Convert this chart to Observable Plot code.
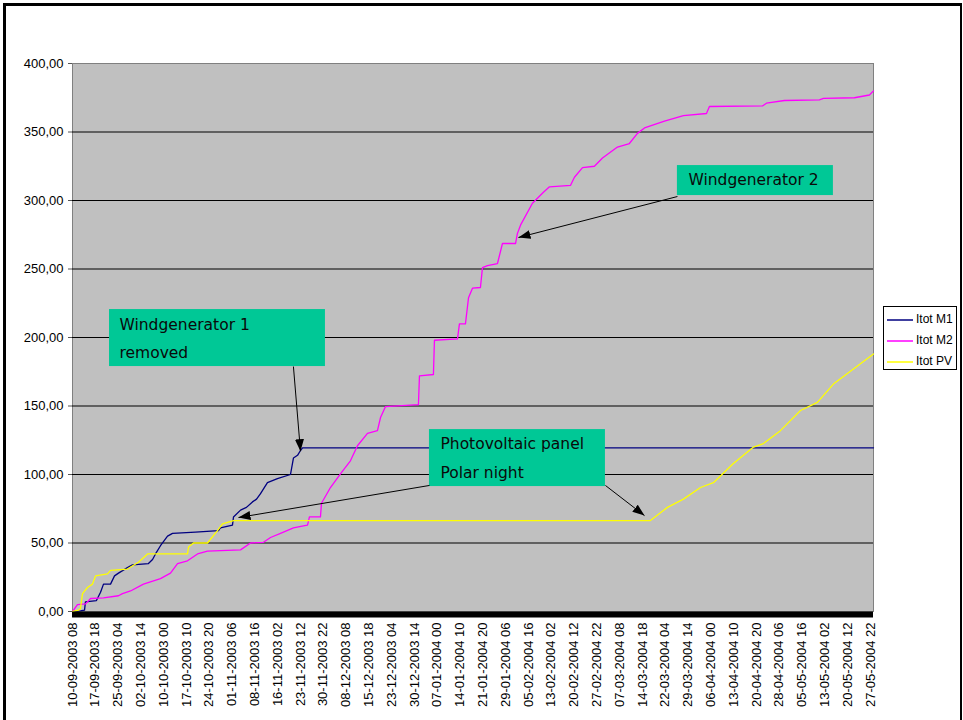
<!DOCTYPE html>
<html>
<head>
<meta charset="utf-8">
<script src="https://cdn.jsdelivr.net/npm/d3@7"></script>
<script src="https://cdn.jsdelivr.net/npm/@observablehq/plot@0.6"></script>
<style>
  body { margin: 0; background: #fff; }
  #wrap { position: relative; width: 963px; height: 720px; overflow: hidden; font-family: "Liberation Sans", Arial, sans-serif; }
  #border { position: absolute; left: 3px; top: 3px; width: 954px; height: 760px; border-left: 3px solid #000; border-top: 3px solid #000; border-right: 2px solid #000; }
  #chart { position: absolute; left: 0; top: 0; }
  #legend { position: absolute; left: 883px; top: 306px; width: 72px; height: 62px; border: 1px solid #000; background: #fff; font-size: 12px; }
  .row { position: absolute; left: 3px; height: 14px; line-height: 14px; white-space: nowrap; }
  .row svg { vertical-align: middle; margin-right: 3px; }
</style>
</head>
<body>
<div id="wrap">
  <div id="border"></div>
  <div id="chart"></div>
  <div id="legend"></div>
</div>
<script>
// ---- data (x: hours since 10-09-2003 08, category axis; y: Itot) ----
const labelStep = 178;
const tickLabels = ["10-09-2003 08","17-09-2003 18","25-09-2003 04","02-10-2003 14","10-10-2003 00","17-10-2003 10","24-10-2003 20","01-11-2003 06","08-11-2003 16","16-11-2003 02","23-11-2003 12","30-11-2003 22","08-12-2003 08","15-12-2003 18","23-12-2003 04","30-12-2003 14","07-01-2004 00","14-01-2004 10","21-01-2004 20","29-01-2004 06","05-02-2004 16","13-02-2004 02","20-02-2004 12","27-02-2004 22","07-03-2004 08","14-03-2004 18","22-03-2004 04","29-03-2004 14","06-04-2004 00","13-04-2004 10","20-04-2004 20","28-04-2004 06","05-05-2004 16","13-05-2004 02","20-05-2004 12","27-05-2004 22"];
const lastHour = 6254;
const yTicks = [0, 50, 100, 150, 200, 250, 300, 350, 400];

const m1Hours = [0,62,94,101,187,219,242,297,328,359,429,468,593,625,648,687,742,781,960,1140,1155,1249,1257,1312,1358,1405,1437,1468,1522,1600,1702,1725,1757,1780,1796,6254];
const m1Values = [0,0.5,1,7,8,14,20,20,26,28,32,34,35,38,42,48,55,57,58,59,61,63,69,74,76,80,82,86,94,97,100,112,114,117.5,119.5,119.5];

const m2Hours = [0,39,101,117,141,242,359,390,453,554,687,765,820,898,976,1054,1312,1390,1491,1546,1624,1725,1803,1835,1850,1936,1944,2014,2092,2170,2225,2303,2381,2405,2444,2701,2709,2818,2826,3006,3021,3068,3092,3123,3185,3201,3240,3318,3357,3459,3474,3498,3591,3677,3724,3888,3919,3982,4075,4138,4255,4348,4411,4466,4622,4770,4950,4973,5387,5418,5559,5832,5863,6105,6222,6254];
const m2Values = [0,5,5.5,7,9.5,10,11.5,13,15,20,24,28,35,37,42,44,45,50,50.5,54,57,61,62.5,63,69,69,79,90.5,100.5,110,121,130,132,141.6,149.6,151,172,173,198,199,210,210,229,236,236.5,251,252.5,254,268.6,268.6,276,282,298,306,310,311,317,324,325,331,339,341.6,349,353,358,362,363.5,368.6,369,371,373,373.5,374.5,375,377,380];

const pvHours = [0,47,62,78,117,156,180,273,297,429,515,586,898,906,945,1054,1132,1171,1257,4512,4645,4770,4903,5004,5160,5317,5395,5527,5684,5816,5941,6097,6254];
const pvValues = [0,1,2,13,17.5,20,26,27.5,30,31,36,42,42,47,50,50,59,64,66.4,66.4,76,82,90.5,94,108,120,122.6,132,146.7,152.6,166,177,188];

const seriesNames = ["Itot M1", "Itot M2", "Itot PV"];
const seriesColors = ["#000080", "#FF00FF", "#FFFF00"];

// annotations (data coordinates)
const boxNames = ["wg1", "pv", "wg2"];
const boxX1 = [289, 2787, 4723];
const boxX2 = [1975, 4161, 5941];
const boxY1 = [178.8, 91.2, 303.6];
const boxY2 = [220.4, 132.8, 325.5];

const noteTexts = ["Windgenerator 1", "removed", "Photovoltaic panel", "Polar night", "Windgenerator 2"];
const noteX = [367, 367, 2873, 2873, 4809];
const noteY = [208.8, 189, 121.9, 101.2, 314.6];

const arrowX1 = [1725, 2787, 4161, 4723];
const arrowY1 = [178.8, 92, 92, 302.9];
const arrowX2 = [1780, 1296, 4466, 3482];
const arrowY2 = [117, 68.6, 70, 273];

// ---- build tables ----
const toRows = (hours, values, name) => hours.map((h, i) => ({hour: h, value: values[i], series: name}));
const rows = [
  ...toRows(m1Hours, m1Values, seriesNames[0]),
  ...toRows(m2Hours, m2Values, seriesNames[1]),
  ...toRows(pvHours, pvValues, seriesNames[2])
];
const tickPositions = tickLabels.map((_, i) => i * labelStep);
const boxes = boxNames.map((n, i) => ({x1: boxX1[i], x2: boxX2[i], y1: boxY1[i], y2: boxY2[i]}));
const notes = noteTexts.map((t, i) => ({text: t, x: noteX[i], y: noteY[i]}));
const arrows = arrowX1.map((_, i) => ({x1: arrowX1[i], y1: arrowY1[i], x2: arrowX2[i], y2: arrowY2[i]}));
const fmt = d => d.toFixed(2).replace(".", ",");

const chart = Plot.plot({
  width: 963,
  height: 720,
  marginLeft: 72,
  marginRight: 90,
  marginTop: 63,
  marginBottom: 109,
  style: {fontFamily: "Liberation Sans, Arial, sans-serif", fontSize: "13px", background: "transparent", overflow: "visible"},
  x: {domain: [0, lastHour], label: null},
  y: {domain: [0, 400], label: null},
  color: {domain: seriesNames, range: seriesColors},
  marks: [
    Plot.frame({fill: "#C0C0C0", stroke: "#808080"}),
    Plot.ruleY(yTicks.filter(d => d > 0 && d < 400), {stroke: "#000", strokeWidth: 1}),
    Plot.line(rows, {x: "hour", y: "value", z: "series", stroke: "series", strokeWidth: 1.3}),
    Plot.ruleY([0], {stroke: "#000", strokeWidth: 6, dy: 3}),
    Plot.axisY(yTicks, {tickFormat: fmt, tickSize: 4, tickPadding: 5, fontSize: 13, stroke: "#555"}),
    Plot.axisX(tickPositions, {tickFormat: d => tickLabels[Math.round(d / labelStep)], tickRotate: -90, tickSize: 0, tickPadding: 11, fontSize: 13}),
    Plot.rect(boxes, {x1: "x1", x2: "x2", y1: "y1", y2: "y2", fill: "#00C896"}),
    Plot.link(arrows, {x1: "x1", y1: "y1", x2: "x2", y2: "y2", stroke: "#000", strokeWidth: 1, markerEnd: "arrow"}),
    Plot.text(notes, {x: "x", y: "y", text: "text", textAnchor: "start", fontSize: 15.5, fontFamily: "DejaVu Sans, Verdana, sans-serif", fill: "#0a0a0a"})
  ]
});

// filled arrowheads
d3.select(chart).selectAll("marker")
  .attr("viewBox", "-12 -5 12 10")
  .attr("markerWidth", 12)
  .attr("markerHeight", 10)
  .attr("fill", "#000")
  .attr("stroke", "none")
  .selectAll("path")
  .attr("d", "M-12,-4.5L0,0L-12,4.5Z");

document.getElementById("chart").appendChild(chart);

// legend
const legend = d3.select("#legend");
const rowTops = [5, 26, 47];
seriesNames.forEach((name, i) => {
  const r = legend.append("div").attr("class", "row").style("top", rowTops[i] + "px");
  const s = r.append("svg").attr("width", 26).attr("height", 4);
  s.append("line").attr("x1", 0).attr("x2", 26).attr("y1", 2).attr("y2", 2)
    .attr("stroke", seriesColors[i]).attr("stroke-width", 1.5);
  r.append("span").text(name);
});
</script>
</body>
</html>
